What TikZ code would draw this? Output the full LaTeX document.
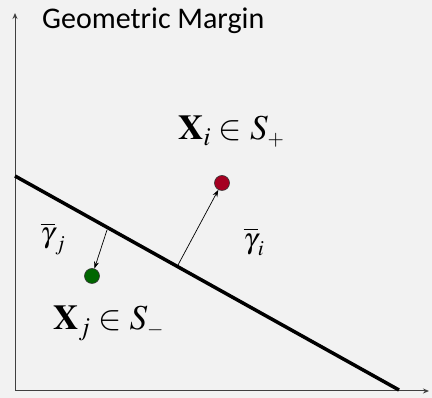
\documentclass[tikz,border=0pt]{standalone}
\usepackage{mathptmx}
\usepackage[no-math]{fontspec}
\newfontfamily\labelfont{Carlito}
\usetikzlibrary{arrows.meta}
\definecolor{bgc}{HTML}{F2F2F2}
\definecolor{redpt}{HTML}{A50021}
\definecolor{greenpt}{HTML}{006600}
\tikzset{
  axis/.style={draw=black!75, line width=1pt, -{Stealth[length=6pt,width=5pt]}},
  hyper/.style={draw=black, line width=3.5pt},
  pt/.style={circle, draw=black!80, line width=0.6pt, minimum size=15pt, inner sep=0pt},
  marg/.style={draw=black, line width=0.7pt, -{Stealth[length=7pt,width=5pt]}},
  mlabel/.style={inner sep=0pt, font=\fontsize{35}{40}\selectfont},
  glabel/.style={inner sep=0pt, font=\fontsize{29}{34}\selectfont}
}
\begin{document}
\begin{tikzpicture}[x=1pt,y=1pt]
\fill[bgc] (0,0) rectangle (432,398);
\useasboundingbox (0,0) rectangle (432,398);
\coordinate (o) at (15,7);
\coordinate (ytop) at (15,385);
\coordinate (xend) at (429,7);
\coordinate (h1) at (15,222);
\coordinate (h2) at (399,8);
\draw[axis] (o) -- (ytop);
\draw[axis] (o) -- (xend);
\draw[hyper] (h1) -- (h2);
\node[pt, fill=redpt] (xi) at (222,215) {};
\node[pt, fill=greenpt] (xj) at (92,122) {};
\coordinate (fi) at (178,133);
\coordinate (fj) at (107,168);
\draw[marg] (fi) -- (xi);
\draw[marg] (fj) -- (xj);
\node[anchor=west, inner sep=0pt, font=\labelfont\fontsize{30}{36}\selectfont] (title) at (42,377) {Geometric Margin};
\node[mlabel, anchor=base west] (li) at (178,258) {$\mathbf{X}_i \in S_{\scriptscriptstyle +}$};
\node[mlabel, anchor=base west] (lj) at (53,68) {$\mathbf{X}_j \in S_{\scriptscriptstyle -}$};
\node[glabel] (gi) at (254,156) {$\overline{\gamma}_i$};
\node[glabel] (gj) at (53,159) {$\overline{\gamma}_j$};
\end{tikzpicture}
\end{document}
